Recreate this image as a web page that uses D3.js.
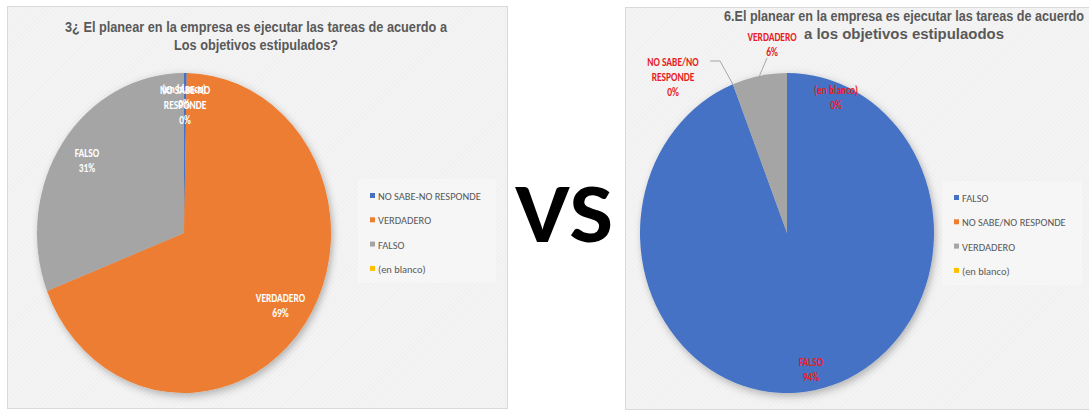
<!DOCTYPE html>
<html><head><meta charset="utf-8">
<script src="https://cdn.jsdelivr.net/npm/d3@7"></script>
<style>html,body{margin:0;padding:0;background:#fff;}svg{display:block;}</style>
</head><body>
<svg id="c" width="1089" height="411"></svg>
<script>
// ---------- data ----------
const leftTitle = ["3¿ El planear en la empresa es ejecutar las tareas de acuerdo a", "Los objetivos estipulados?"];
const leftCategories = ["NO SABE-NO RESPONDE", "VERDADERO", "FALSO", "(en blanco)"];
const leftValues = [0.3, 69, 31, 0];
const rightTitle = ["6.El planear en la empresa es ejecutar las tareas de acuerdo", "a los objetivos estipulaodos"];
const rightCategories = ["FALSO", "NO SABE/NO RESPONDE", "VERDADERO", "(en blanco)"];
const rightValues = [94, 0, 6, 0];
const leftColors = ["#4472c4", "#ed7d31", "#a5a5a5", "#ffc000"];
const rightColors = ["#4472c4", "#ed7d31", "#a5a5a5", "#ffc000"];
const vsText = "VS";

// ---------- setup ----------
const svg = d3.select("#c");
const defs = svg.append("defs");
const pat = defs.append("pattern").attr("id", "hatch").attr("width", 3).attr("height", 3)
  .attr("patternUnits", "userSpaceOnUse").attr("patternTransform", "rotate(45)");
pat.append("rect").attr("width", 3).attr("height", 3).attr("fill", "#f4f4f4");
pat.append("line").attr("x1", 0).attr("y1", 0).attr("x2", 0).attr("y2", 3).attr("stroke", "#eaeaea").attr("stroke-width", 1);
const f = defs.append("filter").attr("id", "sh").attr("x", "-20%").attr("y", "-20%").attr("width", "140%").attr("height", "140%");
f.append("feDropShadow").attr("dx", 2).attr("dy", 3).attr("stdDeviation", 4).attr("flood-color", "#000").attr("flood-opacity", 0.28);

svg.append("rect").attr("width", 1089).attr("height", 411).attr("fill", "#fff");

const CAL = "Carlito, 'Liberation Sans', Arial, sans-serif";
const TIT = "'Liberation Sans', Arial, sans-serif";

function condText(g, txt, x, y, opts) {
  const t = g.append("text").attr("x", x).attr("y", y).text(txt)
    .attr("font-family", opts.family || CAL).attr("font-size", opts.size)
    .attr("font-weight", opts.weight || "normal").attr("fill", opts.fill)
    .attr("text-anchor", opts.anchor || "start");
  const len = t.node().getComputedTextLength();
  const target = opts.width ? opts.width : len * (opts.k || 0.86);
  t.attr("textLength", target).attr("lengthAdjust", "spacingAndGlyphs");
  return t;
}

function splitLabel(name) {
  if (name.length > 12 && name.lastIndexOf(" ") > 0) {
    const i = name.lastIndexOf(" ");
    return [name.slice(0, i), name.slice(i + 1)];
  }
  return [name];
}

function drawPanel(cfg) {
  const g = svg.append("g");
  g.append("rect").attr("x", cfg.frame[0] + 0.5).attr("y", cfg.frame[1] + 0.5)
    .attr("width", cfg.frame[2]).attr("height", cfg.frame[3])
    .attr("fill", "url(#hatch)").attr("stroke", "#d9d9d9");
  // title
  cfg.title.forEach((line, i) => {
    condText(g, line, cfg.titleX, cfg.titleY[i], {family: TIT, size: 14, weight: "bold", fill: "#595959", anchor: "middle", width: cfg.titleW[i]});
  });
  // pie
  const total = d3.sum(cfg.values);
  const pie = d3.pie().sort(null).value(d => d)(cfg.values);
  const R = cfg.ry, sx = cfg.rx / cfg.ry;
  const arc = d3.arc().innerRadius(0).outerRadius(R);
  const color = d3.scaleOrdinal().domain(cfg.categories).range(cfg.colors);
  const pg = g.append("g").attr("transform", `translate(${cfg.cx},${cfg.cy}) scale(${sx},1)`).attr("filter", "url(#sh)");
  pg.selectAll("path").data(pie).join("path")
    .attr("d", arc).attr("fill", (d, i) => color(cfg.categories[i]));
  const pct = d3.format(".0%");
  const at = (ang, r) => [cfg.cx + Math.sin(ang) * R * r * sx, cfg.cy - Math.cos(ang) * R * r];
  // labels
  pie.forEach((d, i) => {
    const name = cfg.categories[i];
    const lines = splitLabel(name).concat([pct(d.value / total)]);
    const mid = (d.startAngle + d.endAngle) / 2;
    const lay = cfg.labelLayout[name] || {};
    let cx, cy;
    if (lay.x !== undefined) { cx = lay.x; cy = lay.y; }
    else { [cx, cy] = at(mid, lay.r || cfg.labelR); }
    const lh = 15;
    const y0 = cy - (lines.length - 1) * lh / 2 + 3.5;
    lines.forEach((ln, j) => {
      condText(g, ln, cx + (lay.dx || 0), y0 + j * lh + (lay.dy || 0), {size: 11, weight: "bold", fill: cfg.labelColor, anchor: "middle", k: 0.86});
    });
    if (lay.leader) {
      const e = at(d.endAngle === d.startAngle ? d.startAngle : mid, 1.0);
      const pts = lay.leader.concat([e]);
      g.append("path").attr("d", d3.line()(pts)).attr("fill", "none").attr("stroke", "#a6a6a6").attr("stroke-width", 1);
    }
  });
  // legend
  const lg = g.append("g");
  lg.append("rect").attr("x", cfg.legend.x - 12).attr("y", cfg.legend.y - 17).attr("width", cfg.legend.w).attr("height", 104)
    .attr("fill", "#fff").attr("opacity", 0.3);
  cfg.categories.forEach((c, i) => {
    const y = cfg.legend.y + i * 24.3;
    lg.append("rect").attr("x", cfg.legend.x).attr("y", y - 3).attr("width", 5).attr("height", 5).attr("fill", color(c));
    condText(lg, c, cfg.legend.x + 8, y + 4, {size: 11, fill: "#595959", k: 0.95});
  });
}

drawPanel({
  frame: [7, 6, 500, 402], title: leftTitle, titleX: 256, titleY: [32, 50], titleW: [382, 164],
  values: leftValues, categories: leftCategories, colors: leftColors,
  cx: 184, cy: 233, rx: 147, ry: 160, labelR: 0.8, labelColor: "#ffffff",
  labelLayout: {"(en blanco)": {r: 0.847}},
  legend: {x: 370, y: 196, w: 138}
});

drawPanel({
  frame: [625, 7, 470, 402], title: rightTitle, titleX: 904, titleY: [20.5, 38.5], titleW: [360, 200],
  values: rightValues, categories: rightCategories, colors: rightColors,
  cx: 787, cy: 233, rx: 147, ry: 160, labelR: 0.87, labelColor: "#e81c24",
  labelLayout: {
    "NO SABE/NO RESPONDE": {x: 673, y: 77, leader: [[710, 61], [720, 61]]},
    "VERDADERO": {x: 772, y: 45, leader: [[767, 58]]},
    "(en blanco)": {x: 836, y: 98}
  },
  legend: {x: 954, y: 198, w: 140}
});

// VS
svg.append("text").attr("x", 564).attr("y", 242).attr("text-anchor", "middle")
  .attr("font-family", CAL).attr("font-weight", "bold").attr("font-size", 84)
  .attr("fill", "#000").attr("textLength", 98).attr("lengthAdjust", "spacingAndGlyphs").text(vsText);
</script>
</body></html>
